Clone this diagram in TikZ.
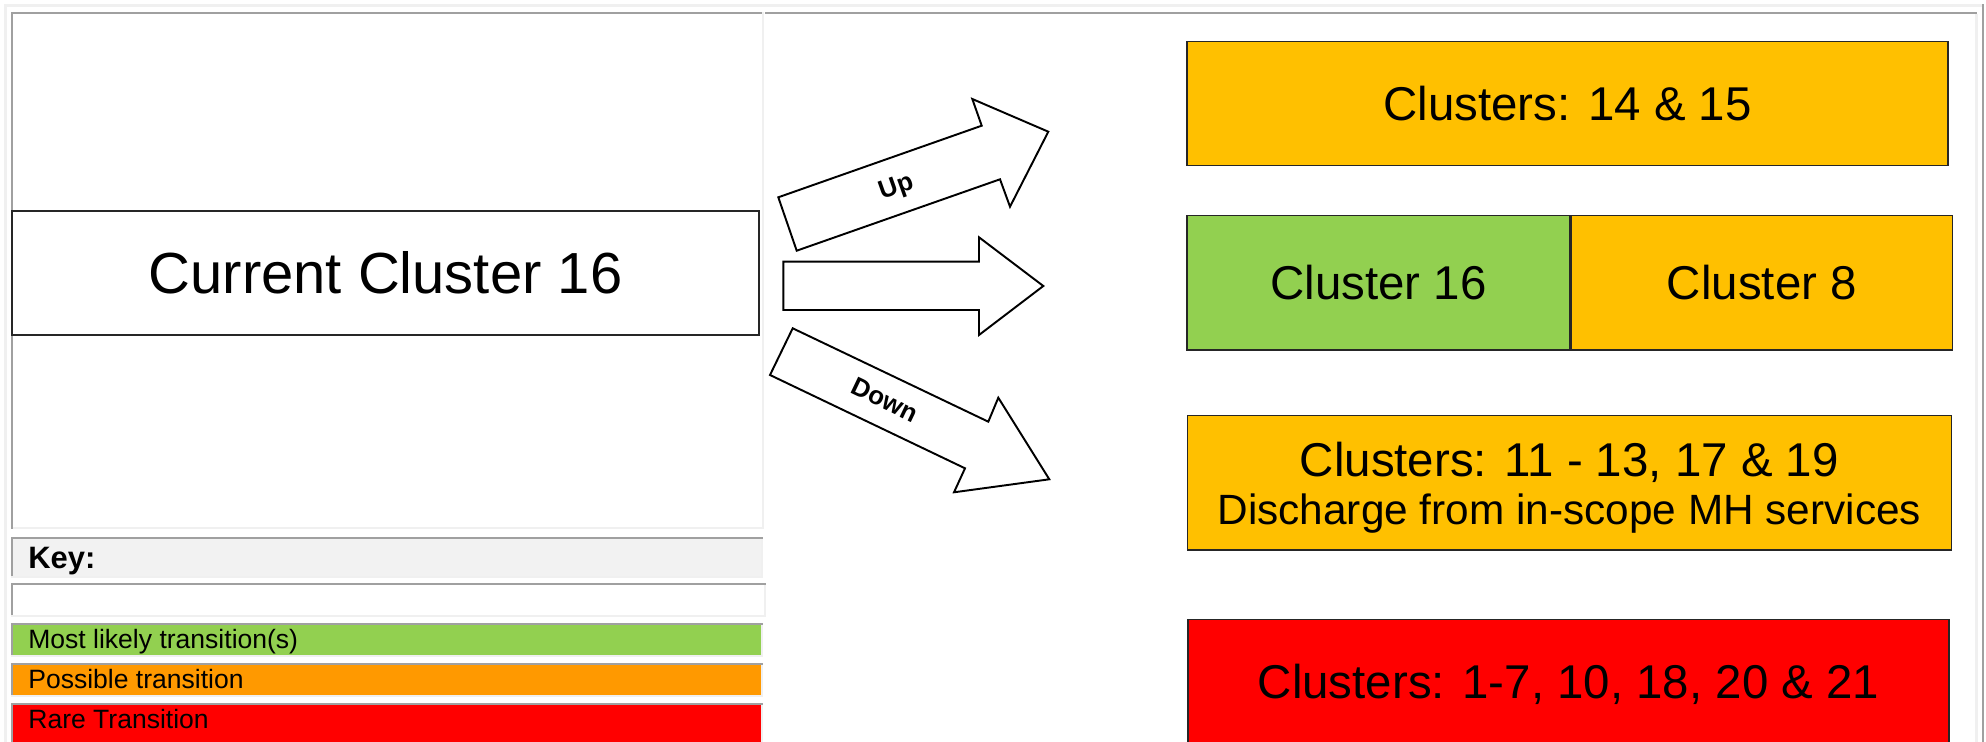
\documentclass[tikz,border=0pt]{standalone}
\usepackage{fontspec}
\setmainfont{Liberation Sans}
\definecolor{framelight}{HTML}{F0F0F0}
\definecolor{framedark}{HTML}{A0A0A0}
\definecolor{keygrey}{HTML}{F2F2F2}
\definecolor{likelygreen}{HTML}{92D050}
\definecolor{possibleorange}{HTML}{FF9900}
\definecolor{clusteramber}{HTML}{FFC000}
\definecolor{rarered}{HTML}{FF0000}
\begin{document}
\begin{tikzpicture}[x=0.02cm, y=-0.02cm,
    clusterbox/.style={draw=black!85, line width=0.7pt, inner sep=0pt,
      minimum height=2.686cm, font=\fontsize{27pt}{27.4pt}\selectfont},
    bigarrow/.style={draw=black, line width=1.1pt, fill=white},
    arrowlabel/.style={font=\bfseries\fontsize{14.7pt}{16pt}\selectfont},
    keytext/.style={anchor=base west, inner sep=0pt, font=\fontsize{15.1pt}{17pt}\selectfont}]
  \useasboundingbox (0,0) rectangle (1986,742);
  \clip (0,0) rectangle (1986,742);

  % table frame
  \fill[framelight] (4,4) rectangle (1982,7);
  \fill[framelight] (4,4) rectangle (7,742);
  \fill[framedark] (1982,4) rectangle (1984,742);
  \fill[framedark] (11,12) rectangle (762,14);
  \fill[framedark] (11,12) rectangle (13,529);
  \fill[framelight] (762,12) rectangle (764,529);
  \fill[framelight] (13,527) rectangle (764,529);
  \fill[framedark] (765,12) rectangle (1977,14);
  \fill[framelight] (1975,14) rectangle (1978,742);

  % key rows
  \foreach \ya/\yb/\rowcol/\xr in {537/576/keygrey/763, 583/615/white/766,
      623/655/likelygreen/763, 663/695/possibleorange/763, 703/745/rarered/763} {
    \fill[framelight] (11,\ya) rectangle (\xr,\yb+2);
    \fill[\rowcol] (13,\ya+2) rectangle (\xr-2,\yb);
    \fill[framedark] (11,\ya) rectangle (\xr,\ya+2);
    \fill[framedark] (11,\ya) rectangle (13,\yb);
  }
  \node[keytext, font=\bfseries\fontsize{17.6pt}{20pt}\selectfont] (keyhead) at (28,568.3) {Key:};
  \node[keytext] (keylikely) at (28,648) {Most likely transition(s)};
  \node[keytext] (keypossible) at (28,688.3) {Possible transition};
  \node[keytext] (keyrare) at (28,728.3) {Rare Transition};

  % current cluster
  \node[clusterbox, fill=white, minimum width=14.94cm, minimum height=2.48cm,
    font=\fontsize{33pt}{36pt}\selectfont] (current) at (385.5,273) {Current Cluster 16};

  % block arrows
  \draw[bigarrow] (778.3,197.3) -- (981.7,125.7) -- (972.3,99) -- (1048.3,131.7)
    -- (1010,206.7) -- (1000,179.3) -- (796.7,250.7) -- cycle;
  \draw[bigarrow] (783.3,261.7) -- (979,261.7) -- (979,237.3) -- (1043.3,286)
    -- (979,335) -- (979,310) -- (783.3,310) -- cycle;
  \draw[bigarrow] (792.7,328.3) -- (988.3,421.7) -- (998.3,397.7) -- (1049.3,479.3)
    -- (954,492.3) -- (965,468.3) -- (770,375) -- cycle;
  \node[arrowlabel, rotate=19.5] (uplbl) at (897,188.3) {Up};
  \node[arrowlabel, rotate=-25.5] (downlbl) at (885,400) {Down};

  % target clusters
  \node[clusterbox, fill=clusteramber, minimum width=15.22cm, minimum height=2.48cm] (upcl) at (1567.5,103.7) {Clusters: 14 \& 15};
  \node[clusterbox, fill=likelygreen, minimum width=7.654cm] (samecl) at (1378.4,282.9) {Cluster 16};
  \node[clusterbox, fill=clusteramber, minimum width=7.638cm, anchor=west] (altcl) at (samecl.east) {Cluster 8};
  \node[clusterbox, fill=clusteramber, minimum width=15.29cm] (downcl) at (1569.3,482.9) {};
  \node[align=center, font=\fontsize{27pt}{27.4pt}\selectfont] (downtxt) at ([yshift=-0.1cm]downcl.center)
    {Clusters: 11 - 13, 17 \& 19\\{\fontsize{24.1pt}{27.4pt}\selectfont Discharge from in-scope MH services}};
  \node[clusterbox, fill=rarered, minimum width=15.22cm, minimum height=2.594cm] (rarecl) at (1568.5,684.2) {Clusters: 1-7, 10, 18, 20 \& 21};
\end{tikzpicture}
\end{document}
